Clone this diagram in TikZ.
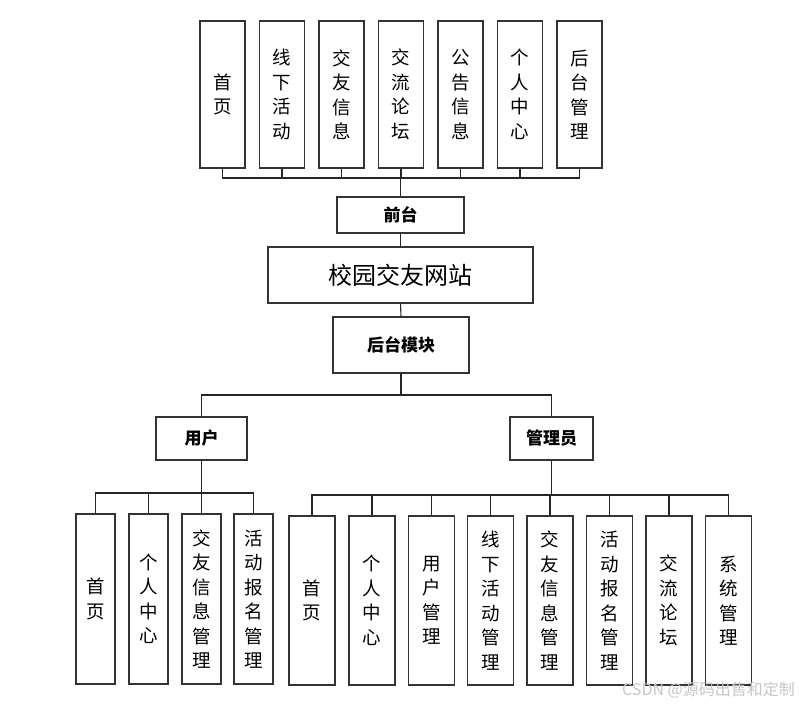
\documentclass[tikz,border=0pt]{standalone}
\usepackage{fontspec}
\setmainfont{Noto Sans CJK SC}
\begin{document}
\begin{tikzpicture}[x=1pt,y=-1pt,
  box/.style={draw=black!80,line width=1.1pt,fill=white,inner sep=0pt,align=center},
  vtext/.style={box,font=\fontsize{18.5}{24.5}\selectfont},
  topbox/.style={vtext,minimum width=45pt,minimum height=147pt},
  ukid/.style={vtext,minimum width=39pt,minimum height=170pt},
  akid/.style={vtext,minimum width=46pt,minimum height=169pt},
  bbox/.style={box,font=\fontsize{17}{20}\selectfont\bfseries},
  conn/.style={draw=black!85,line width=1.1pt},
  thick conn/.style={conn,line width=1.8pt}]
\useasboundingbox (0,0) rectangle (808,704);
\fill[white] (0,0) rectangle (808,704);
% top row
\node[topbox] (t1) at (222.5,94.5) {首\\页};
\node[topbox] (t2) at (282,94.5) {线\\下\\活\\动};
\node[topbox] (t3) at (341.5,94.5) {交\\友\\信\\息};
\node[topbox] (t4) at (401,94.5) {交\\流\\论\\坛};
\node[topbox] (t5) at (460.5,94.5) {公\\告\\信\\息};
\node[topbox] (t6) at (520,94.5) {个\\人\\中\\心};
\node[topbox] (t7) at (579.5,94.5) {后\\台\\管\\理};
% centre column
\node[bbox,minimum width=127pt,minimum height=36pt] (qt) at (400.5,215) {前台};
\node[box,minimum width=265pt,minimum height=56pt,font=\fontsize{24}{26}\selectfont] (site) at (400.5,275) {校园交友网站};
\node[bbox,minimum width=136pt,minimum height=56pt] (ht) at (401,345) {后台模块};
\node[bbox,minimum width=91pt,minimum height=43pt] (user) at (201.5,438.5) {用户};
\node[bbox,minimum width=83pt,minimum height=43pt] (admin) at (551.5,438.5) {管理员};
% user children
\node[ukid] (u1) at (95.5,599) {首\\页};
\node[ukid] (u2) at (148.5,599) {个\\人\\中\\心};
\node[ukid] (u3) at (201.5,599) {交\\友\\信\\息\\管\\理};
\node[ukid] (u4) at (253.5,599) {活\\动\\报\\名\\管\\理};
% admin children
\node[akid] (a1) at (312,600.5) {首\\页};
\node[akid] (a2) at (372,600.5) {个\\人\\中\\心};
\node[akid] (a3) at (431.5,600.5) {用\\户\\管\\理};
\node[akid] (a4) at (490.5,600.5) {线\\下\\活\\动\\管\\理};
\node[akid] (a5) at (550,600.5) {交\\友\\信\\息\\管\\理};
\node[akid] (a6) at (609.5,600.5) {活\\动\\报\\名\\管\\理};
\node[akid] (a7) at (669,600.5) {交\\流\\论\\坛};
\node[akid] (a8) at (728.5,600.5) {系\\统\\管\\理};
% bus coordinates
\coordinate (topbus) at (400.5,178);
\coordinate (midbus) at (401,395);
\coordinate (ubus) at (201.5,493);
\coordinate (abus) at (551.5,495);
% connectors
\foreach \i in {1,...,7} { \draw[conn] (t\i.south) |- (topbus); }
\draw[thick conn] (topbus) -- (qt.north);
\draw[conn] (qt.south) -- (site.north);
\draw[conn] (site.south) -- (ht.north);
\draw[conn] (ht.south) -- (midbus);
\draw[conn] (midbus) -| (user.north);
\draw[conn] (midbus) -| (admin.north);
\draw[thick conn] (user.south) -- (ubus);
\foreach \i in {1,...,4} { \draw[conn] (ubus) -| (u\i.north); }
\draw[thick conn] (admin.south) -- (abus);
\foreach \i in {1,...,8} { \draw[conn] (abus) -| (a\i.north); }
% watermark
\node[text=black!22,font=\fontsize{16}{18}\selectfont,anchor=east,inner sep=0pt] (wm) at (795,690) {CSDN @源码出售和定制};
\end{tikzpicture}
\end{document}
